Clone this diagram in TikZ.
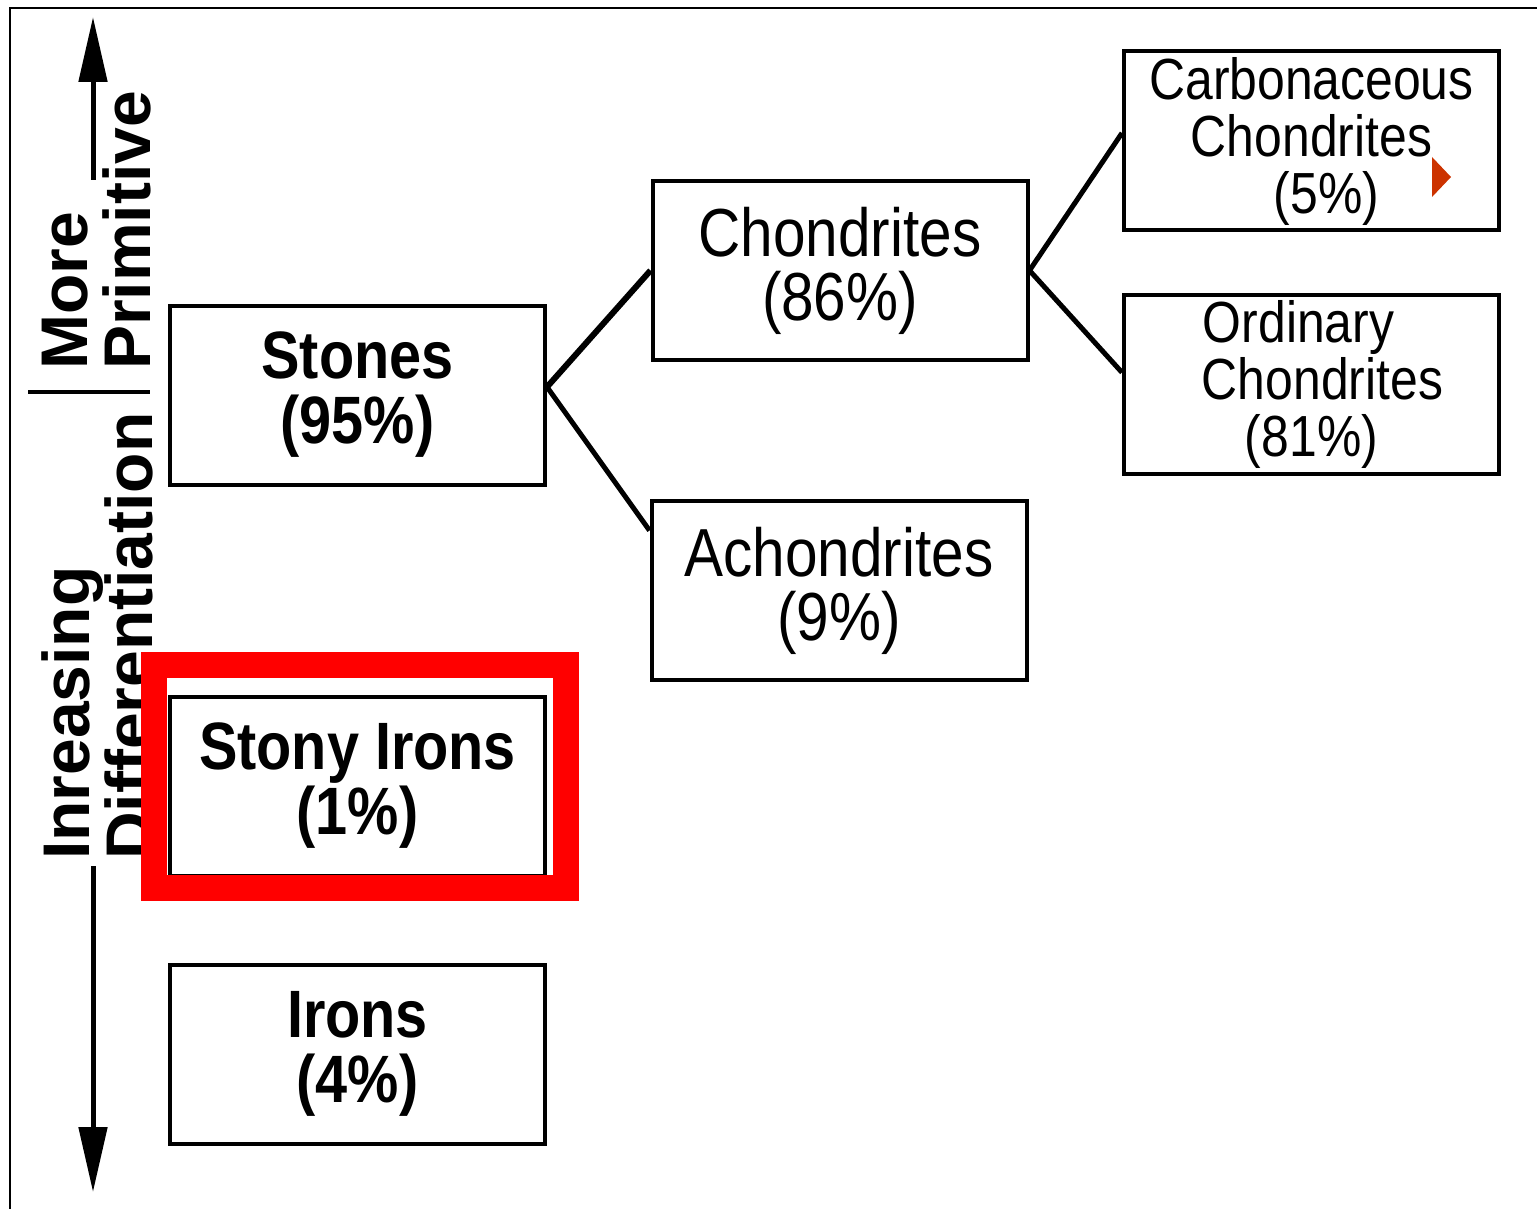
\documentclass[tikz,border=0pt]{standalone}
\usepackage{fontspec}
\setmainfont{Liberation Sans}
\newfontfamily\boxfont[FakeStretch=0.86]{Liberation Sans}
\usetikzlibrary{arrows.meta}

\definecolor{marker}{HTML}{CC3300}

\tikzset{
  kind/.style={draw, line width=4pt, minimum width=375pt, minimum height=179pt,
    inner sep=0pt, align=center},
  group/.style={kind, font=\boxfont\bfseries\fontsize{67}{65}\selectfont},
  sub/.style={kind, font=\boxfont\fontsize{68}{64}\selectfont},
  subsub/.style={kind, font=\boxfont\fontsize{58}{57}\selectfont},
  link/.style={line width=5pt},
  axis/.style={line width=5pt, -{Triangle[length=65pt,width=28pt]}},
  axislabel/.style={rotate=90, anchor=west, inner sep=0pt, align=left,
    font=\bfseries\fontsize{66}{63}\selectfont}
}

\begin{document}
\begin{tikzpicture}[x=1pt, y=-1pt]
    \useasboundingbox (0,0) rectangle (1537,1209);

    % frame
    \draw[line width=2pt] (10,1209) -- (10,8) -- (1537,8);

    % left scale
    \coordinate (up0) at (93,180);
    \coordinate (up1) at (93,17);
    \coordinate (dn0) at (93,866);
    \coordinate (dn1) at (93,1192);
    \draw[axis] (up0) -- (up1);
    \draw[axis] (dn0) -- (dn1);
    \node[axislabel] (prim) at (97,370) {More\\Primitive};
    \node[axislabel] (diff) at (97,860) {Inreasing\\Differentiation};
    \coordinate (sep0) at (28,392);
    \coordinate (sep1) at (150,392);
    \draw[line width=3.5pt] (sep0) -- (sep1);

    % classes
    \node[group] (stones) at (357.5,395) {Stones\\(95\%)};
    \node[group] (stony) at (357.5,786) {Stony Irons\\(1\%)};
    \node[group] (irons) at (357.5,1054) {Irons\\(4\%)};
    \node[sub] (chon) at (840,270.5) {Chondrites\\(86\%)};
    \node[sub] (achon) at (839,590.5) {Achondrites\\(9\%)};
    \node[subsub] (carb) at (1311.5,141)
        {Carbonaceous\\Chondrites\hspace*{26pt}\\\hspace*{30pt}(5\%)};
    \node[subsub] (ord) at (1311.5,384.5)
        {Ordinary\hspace*{26pt}\\\hspace*{22pt}Chondrites\\(81\%)};

    % tree
    \draw[link, line width=6pt] ([yshift=8pt]stones.east) -- (chon.west);
    \draw[link] ([yshift=8pt]stones.east) -- ([yshift=60pt]achon.west);
    \draw[link] (chon.east) -- ([yshift=8pt]carb.west);
    \draw[link] (chon.east) -- ([yshift=12pt]ord.west);

    % highlight
    \draw[red, line width=26pt] (154,665) rectangle (566,888);
    \fill[marker] (1432,157) -- (1451,177) -- (1432,197) -- cycle;
\end{tikzpicture}
\end{document}
